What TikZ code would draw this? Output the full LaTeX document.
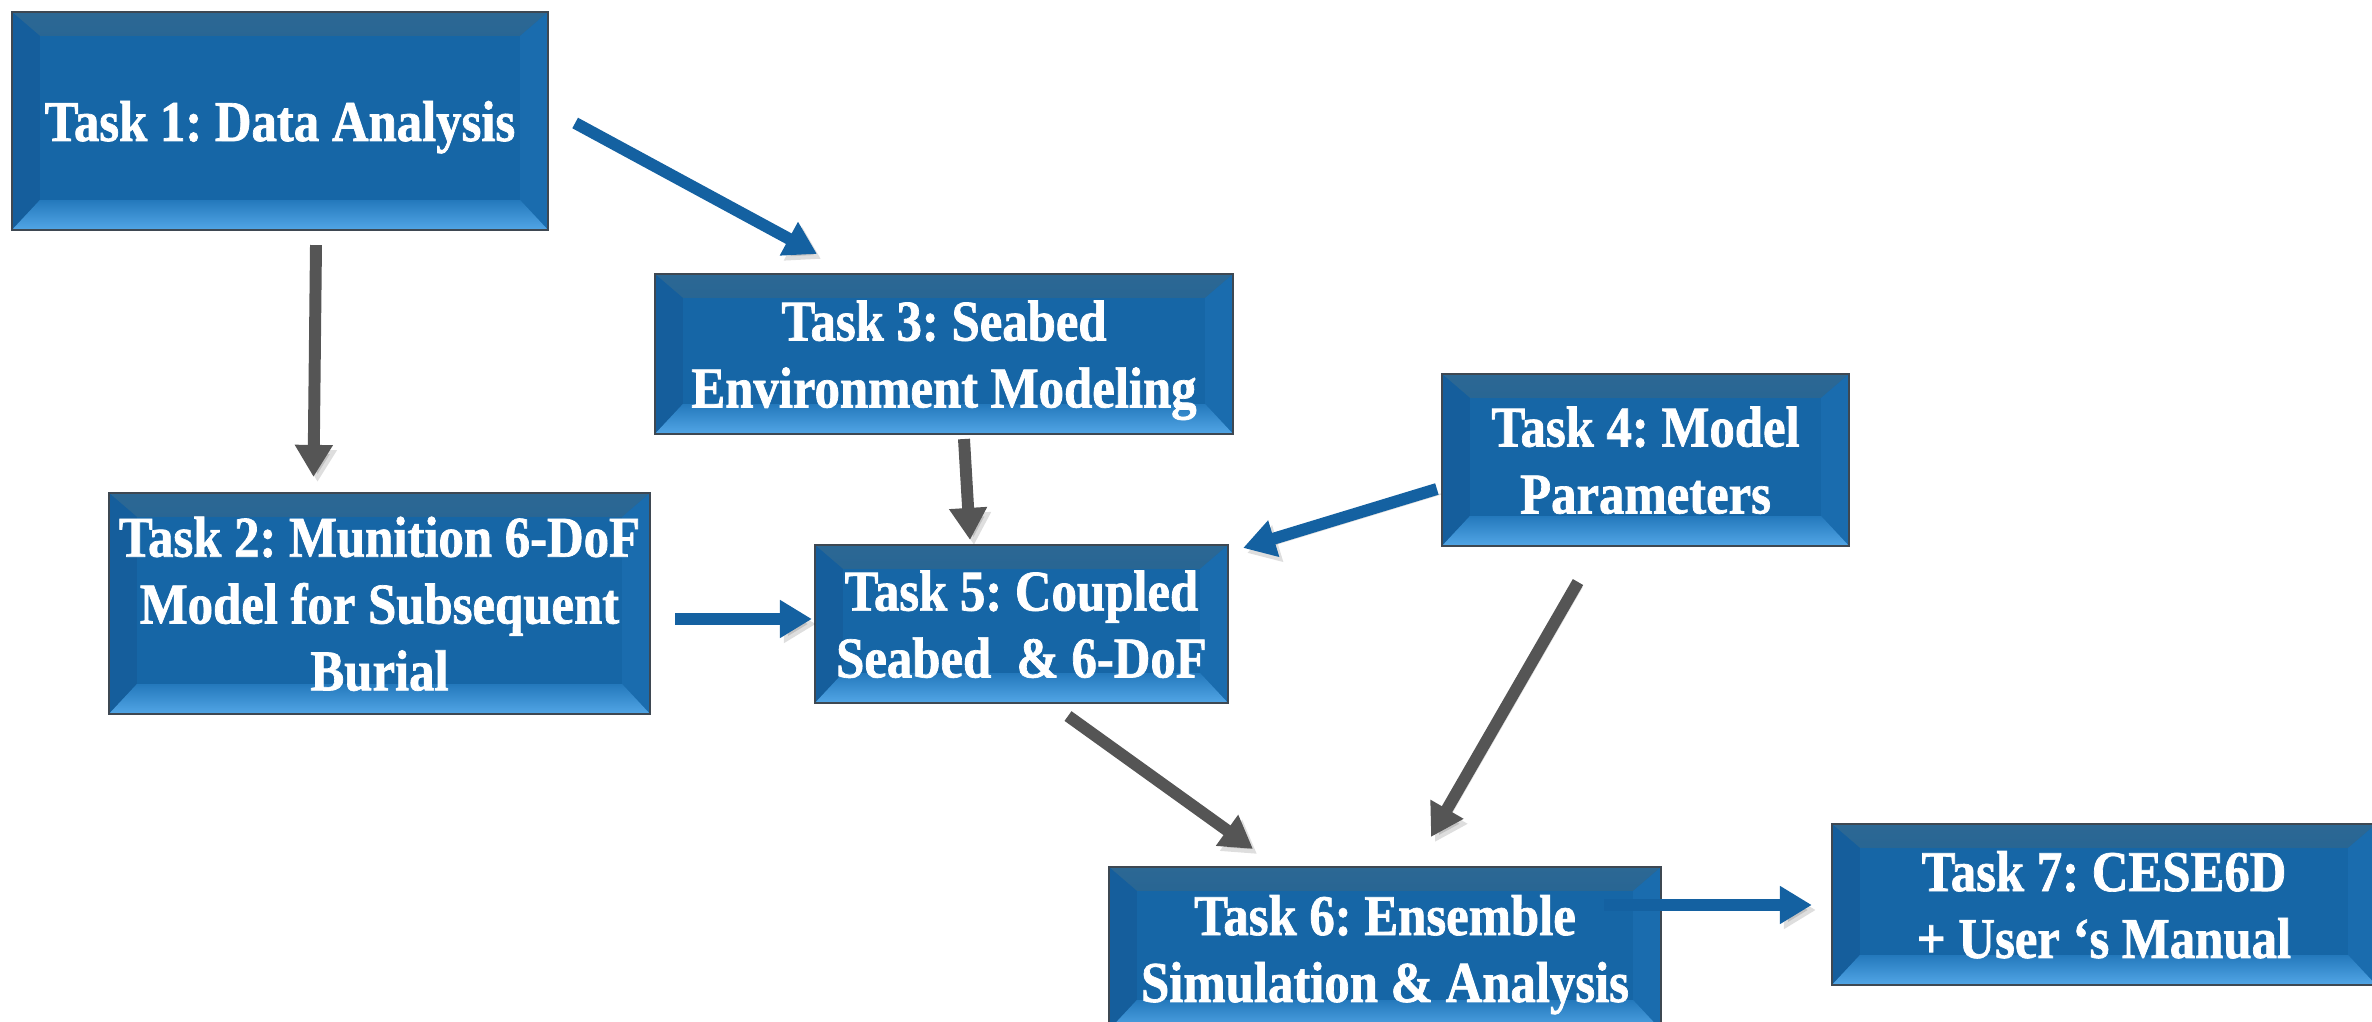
\documentclass[tikz,border=0pt]{standalone}
\usepackage{fontspec}
\setmainfont{Liberation Serif}[FakeStretch=0.88, FakeBold=1.2]
\usetikzlibrary{arrows.meta}
\frenchspacing

\definecolor{boxblue}{HTML}{1666A6}
\definecolor{bevtop}{HTML}{13578F}
\definecolor{bevtopedge}{HTML}{2C6894}
\definecolor{bevleft}{HTML}{155E9C}
\definecolor{bevright}{HTML}{1A6CAE}
\definecolor{bevmid}{HTML}{2479BC}
\definecolor{bevlight}{HTML}{52A6E6}
\definecolor{boxedge}{HTML}{3E4852}
\definecolor{arrowblue}{HTML}{1461A1}
\definecolor{arrowgray}{HTML}{555555}

\tikzset{
  taskbox/.style={
    draw=boxedge, line width=0.7pt, fill=boxblue, text=white,
    inner sep=0pt, outer sep=0pt, align=center, text depth=0pt,
    font=\fontsize{16.4}{19}\selectfont\bfseries,
    path picture={
      % top bevel
      \shade[top color=bevtopedge, bottom color=bevtop]
        (path picture bounding box.north west) --
        (path picture bounding box.north east) --
        ([xshift=-0.28cm,yshift=-0.24cm]path picture bounding box.north east) --
        ([xshift=0.28cm,yshift=-0.24cm]path picture bounding box.north west) -- cycle;
      % left bevel
      \fill[bevleft]
        (path picture bounding box.north west) --
        ([xshift=0.28cm,yshift=-0.24cm]path picture bounding box.north west) --
        ([xshift=0.28cm,yshift=0.3cm]path picture bounding box.south west) --
        (path picture bounding box.south west) -- cycle;
      % right bevel
      \fill[bevright]
        (path picture bounding box.north east) --
        ([xshift=-0.28cm,yshift=-0.24cm]path picture bounding box.north east) --
        ([xshift=-0.28cm,yshift=0.3cm]path picture bounding box.south east) --
        (path picture bounding box.south east) -- cycle;
      % bottom bevel
      \shade[top color=bevmid, bottom color=bevlight]
        (path picture bounding box.south west) --
        (path picture bounding box.south east) --
        ([xshift=-0.28cm,yshift=0.3cm]path picture bounding box.south east) --
        ([xshift=0.28cm,yshift=0.3cm]path picture bounding box.south west) -- cycle;
    }
  },
  flow/.style={line width=3.4pt, -{Triangle[width=0.36cm, length=0.32cm]},
    preaction={draw=black, opacity=0.13,
      transform canvas={shift={(0.04cm,-0.05cm)}}}},
  bluearrow/.style={flow, draw=arrowblue, fill=arrowblue},
  grayarrow/.style={flow, draw=arrowgray, fill=arrowgray}
}

\begin{document}
\begin{tikzpicture}[x=0.01cm, y=-0.01cm]
\useasboundingbox (0,0) rectangle (2372,1022);

% task boxes
\node[taskbox, minimum width=5.36cm, minimum height=2.18cm] (t1) at (280,121)
  {Task 1: Data Analysis};
\node[taskbox, minimum width=5.41cm, minimum height=2.21cm] (t2) at (379.5,603.5)
  {Task 2: Munition 6-DoF\\Model for Subsequent\\Burial};
\node[taskbox, minimum width=5.78cm, minimum height=1.60cm] (t3) at (944,354)
  {Task 3: Seabed\\Environment Modeling};
\node[taskbox, minimum width=4.07cm, minimum height=1.72cm] (t4) at (1645.5,460)
  {Task 4: Model\\Parameters};
\node[taskbox, minimum width=4.13cm, minimum height=1.58cm] (t5) at (1021.5,624)
  {Task 5: Coupled\\Seabed\ \ \& 6-DoF};
\node[taskbox, minimum width=5.52cm, minimum height=1.63cm] (t6) at (1385,948.5)
  {Task 6: Ensemble\\Simulation \& Analysis};
\node[taskbox, minimum width=5.44cm, minimum height=1.61cm] (t7) at (2104,904.5)
  {Task 7: CESE6D\\+ User ‘s Manual};

% connectors
\draw[grayarrow] ([shift={(36,15)}]t1.south) -- ([shift={(-66,-16)}]t2.north);
\draw[bluearrow] ([shift={(27,2)}]t1.east) -- ([shift={(-127,-20)}]t3.north);
\draw[grayarrow] ([shift={(20,5)}]t3.south) -- ([shift={(-51.5,-5)}]t5.north);
\draw[bluearrow] ([shift={(-5,29)}]t4.west) -- ([shift={(15,3)}]t5.north east);
\draw[bluearrow] ([shift={(25,15.5)}]t2.east) -- ([shift={(-3,-5)}]t5.west);
\draw[grayarrow] ([shift={(46.5,13)}]t5.south) -- ([shift={(-132,-18)}]t6.north);
\draw[grayarrow] ([shift={(-67.5,36)}]t4.south) -- ([shift={(46,-30)}]t6.north);
\draw[bluearrow] ([shift={(-57,-43.5)}]t6.east) -- ([shift={(-20,0.5)}]t7.west);
\end{tikzpicture}
\end{document}
